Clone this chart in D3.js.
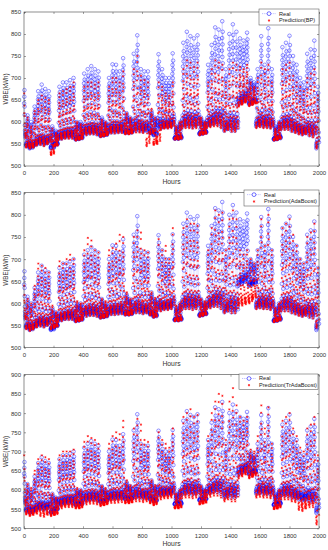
<!DOCTYPE html>
<html>
<head>
<meta charset="utf-8">
<script src="https://cdn.jsdelivr.net/npm/d3@7"></script>
<style>
  html, body { margin: 0; padding: 0; background: #fff; }
  svg { display: block; font-family: "Liberation Sans", Arial, sans-serif; }
  .tick text { fill: #333; }
</style>
</head>
<body>
<svg id="chart" width="328" height="550"></svg>
<script>
// ---- data (one entry per day of 24 h) ----
const hours = 2000;
const dayOffset = 11;   // series starts around 11:00

// real consumption: daily peak / night base
const realPeak = [685,615,600,635,670,685,675,670,590,580,
  680,690,690,695,700,600,600,710,720,727,
  720,715,610,600,700,731,730,715,745,620,
  610,755,797,720,715,715,625,610,754,720,
  700,700,756,590,600,780,805,795,790,797,
  610,600,730,775,815,810,829,720,800,822,
  805,790,785,803,700,690,720,795,730,813,
  720,590,600,770,780,796,750,730,700,690,
  755,765,785,680];
const realBase = [560,545,540,545,550,550,548,552,540,548,
  560,562,565,565,565,560,562,572,572,574,
  574,572,568,570,575,576,576,577,578,575,
  575,578,580,580,578,580,575,570,585,585,
  588,588,590,562,562,588,590,590,588,590,
  572,575,590,592,595,595,590,580,585,580,
  580,640,645,650,640,645,590,592,590,590,
  588,560,562,585,585,585,580,578,575,572,
  575,570,568,540];

// BP prediction
const bpPeak = [665,610,590,625,650,660,655,650,585,575,
  665,670,675,680,690,600,595,680,690,690,
  685,690,605,600,680,700,700,690,715,620,
  610,720,750,705,695,690,630,610,690,680,
  665,660,690,590,600,720,740,735,725,735,
  610,600,690,720,740,735,730,690,720,735,
  730,725,720,730,690,680,700,735,720,730,
  690,585,600,720,730,735,705,690,680,670,
  700,710,720,660];
const bpBase = [558,542,540,542,548,548,545,550,525,545,
  558,560,562,562,562,558,560,570,570,572,
  572,570,566,568,572,574,574,575,575,572,
  572,575,576,576,575,545,572,548,550,582,
  585,585,586,560,560,585,586,586,585,586,
  570,572,586,588,590,590,586,578,582,578,
  578,635,640,645,636,640,586,588,586,586,
  585,558,560,582,582,582,578,575,572,570,
  572,568,565,540];

// AdaBoost prediction
const adaPeak = [640,610,600,640,690,685,680,670,595,580,
  695,690,700,710,700,605,600,720,748,742,
  720,715,610,605,720,725,735,755,750,625,
  610,750,765,760,720,715,625,612,745,720,
  730,700,770,595,600,770,790,780,780,775,
  610,605,720,770,810,800,805,720,790,810,
  790,720,710,720,700,690,720,790,730,800,
  720,590,600,770,780,790,755,730,700,690,
  750,760,780,680];
const adaBase = [560,542,538,542,546,548,546,550,542,546,
  558,560,563,563,563,558,560,570,570,572,
  572,570,566,568,573,574,574,575,576,573,
  573,576,578,578,576,578,573,568,582,582,
  585,585,587,560,560,585,587,587,585,587,
  570,573,587,589,592,592,587,578,582,578,
  578,595,595,598,600,610,587,589,587,587,
  585,558,560,582,582,582,578,575,572,570,
  572,568,566,545];

// TrAdaBoost prediction
const trPeak = [690,615,605,650,680,690,685,680,590,580,
  690,700,700,700,705,605,600,725,740,735,
  730,720,610,605,720,740,750,745,780,625,
  612,760,785,770,730,725,625,612,750,730,
  720,710,760,590,600,790,800,810,790,795,
  610,600,740,800,830,850,845,730,830,865,
  820,790,780,790,705,700,740,820,760,815,
  720,585,600,780,790,800,760,740,710,700,
  760,770,790,690];
const trBase = [552,536,532,535,538,532,530,535,532,535,
  550,552,555,555,555,552,552,562,562,564,
  564,562,558,560,565,566,566,567,568,565,
  565,568,570,570,568,570,565,560,575,575,
  578,578,580,552,552,578,580,580,578,580,
  562,565,580,582,585,585,580,570,575,570,
  570,630,635,640,630,635,580,582,580,580,
  578,550,552,575,575,575,570,568,548,545,
  552,555,555,510];

// typical hour-of-day shapes (0 = night base, 1 = daily peak)
const realShape = [0.05,0.00,0.08,0.02,0.10,0.04,0.14,0.32,0.55,0.72,0.84,1.00,
  0.66,0.78,0.90,0.60,0.45,0.26,0.17,0.10,0.06,0.13,0.03,0.09];
const predShape = [0.10,0.02,0.06,0.00,0.12,0.04,0.20,0.40,0.50,0.68,0.80,0.92,
  1.00,0.58,0.74,0.52,0.36,0.30,0.22,0.14,0.08,0.16,0.05,0.11];

const xTicks = [0,200,400,600,800,1000,1200,1400,1600,1800,2000];

function buildSeries(peak, base, shape){
  const out = [];
  for (let h = 1; h <= hours; h++){
    const d = Math.floor((h + dayOffset) / 24);
    const k = (h + dayOffset) % 24;
    out.push({ h, v: base[d] + (peak[d] - base[d]) * shape[k] });
  }
  return out;
}

const real = buildSeries(realPeak, realBase, realShape);

const panels = [
  { top: 12,    bottom: 166,   yDomain: [500,850], pred: buildSeries(bpPeak, bpBase, predShape),
    label: "Prediction(BP)", leg: { x: 259, y: 9, w: 60, h: 16 } },
  { top: 192.7, bottom: 347.7, yDomain: [500,850], pred: buildSeries(adaPeak, adaBase, predShape),
    label: "Prediction(AdaBoost)", leg: { x: 244, y: 190, w: 75, h: 16 } },
  { top: 374.7, bottom: 528.3, yDomain: [500,900], pred: buildSeries(trPeak, trBase, predShape),
    label: "Prediction(TrAdaBoost)", leg: { x: 239, y: 374, w: 79, h: 15.5 } }
];

const svg = d3.select("#chart");
const left = 24, right = 319;
const x = d3.scaleLinear().domain([0, hours]).range([left, right]);

const starPath = "M-1.1,0H1.1M0,-1.1V1.1M-0.8,-0.8L0.8,0.8M-0.8,0.8L0.8,-0.8";

panels.forEach((p, i) => {
  const y = d3.scaleLinear().domain(p.yDomain).range([p.bottom, p.top]);
  const yTicks = d3.range(p.yDomain[0], p.yDomain[1] + 1, 50);
  const g = svg.append("g");

  // real: thin joining line + circles
  g.append("path").datum(real)
    .attr("d", d3.line().x(d => x(d.h)).y(d => y(d.v)))
    .attr("fill", "none").attr("stroke", "#a8a8ff").attr("stroke-width", 0.3);
  g.append("g").selectAll("circle").data(real).join("circle")
    .attr("cx", d => x(d.h)).attr("cy", d => y(d.v)).attr("r", 1.8)
    .attr("fill", "none").attr("stroke", "#0000ff").attr("stroke-width", 0.42);

  // prediction: red stars
  g.append("g").selectAll("path").data(p.pred).join("path")
    .attr("transform", d => `translate(${x(d.h)},${y(d.v)})`)
    .attr("d", starPath).attr("stroke", "#ff0000").attr("stroke-width", 0.5);

  // axes (inward ticks, box on)
  const fs = "6px";
  const ax = g.append("g").attr("transform", `translate(0,${p.bottom})`)
    .call(d3.axisBottom(x).tickValues(xTicks).tickSize(-2).tickPadding(5).tickFormat(d3.format("d")));
  const ay = g.append("g").attr("transform", `translate(${left},0)`)
    .call(d3.axisLeft(y).tickValues(yTicks).tickSize(-2).tickPadding(3).tickFormat(d3.format("d")));
  const at = g.append("g").attr("transform", `translate(0,${p.top})`)
    .call(d3.axisTop(x).tickValues(xTicks).tickSize(-2).tickFormat(""));
  const ar = g.append("g").attr("transform", `translate(${right},0)`)
    .call(d3.axisRight(y).tickValues(yTicks).tickSize(-2).tickFormat(""));
  [ax, ay, at, ar].forEach(a => {
    a.select(".domain").remove();
    a.selectAll("line").attr("stroke", "#444").attr("stroke-width", 0.5);
    a.selectAll("text").attr("font-size", fs).attr("font-family", "Liberation Sans, Arial, sans-serif");
  });
  g.append("rect").attr("x", left).attr("y", p.top)
    .attr("width", right - left).attr("height", p.bottom - p.top)
    .attr("fill", "none").attr("stroke", "#444").attr("stroke-width", 0.6);

  // axis titles
  g.append("text").attr("x", (left + right) / 2).attr("y", p.bottom + 18)
    .attr("text-anchor", "middle").attr("font-size", "6.8px").attr("fill", "#333").text("Hours");
  g.append("text")
    .attr("transform", `translate(8,${(p.top + p.bottom) / 2}) rotate(-90)`)
    .attr("text-anchor", "middle").attr("font-size", "6.3px").attr("fill", "#333").text("WBE(kWh)");

  // legend
  const L = p.leg;
  const lg = g.append("g").attr("transform", `translate(${L.x},${L.y})`);
  lg.append("rect").attr("width", L.w).attr("height", L.h)
    .attr("fill", "#fff").attr("stroke", "#444").attr("stroke-width", 0.5);
  const r1 = L.h * 0.29, r2 = L.h * 0.72, mx = 10;
  lg.append("line").attr("x1", mx - 7).attr("x2", mx + 7).attr("y1", r1).attr("y2", r1)
    .attr("stroke", "#7a7aff").attr("stroke-width", 0.5).attr("stroke-dasharray", "1,0.8");
  lg.append("circle").attr("cx", mx).attr("cy", r1).attr("r", 1.9)
    .attr("fill", "#fff").attr("stroke", "#0000ff").attr("stroke-width", 0.55);
  lg.append("path").attr("transform", `translate(${mx},${r2})`).attr("d", starPath)
    .attr("stroke", "#ff0000").attr("stroke-width", 0.55);
  lg.append("text").attr("x", mx + 10).attr("y", r1).attr("dy", "0.35em")
    .attr("font-size", "5.6px").attr("fill", "#222").text("Real");
  lg.append("text").attr("x", mx + 10).attr("y", r2).attr("dy", "0.35em")
    .attr("font-size", "5.6px").attr("fill", "#222").text(p.label);
});
</script>
</body>
</html>
